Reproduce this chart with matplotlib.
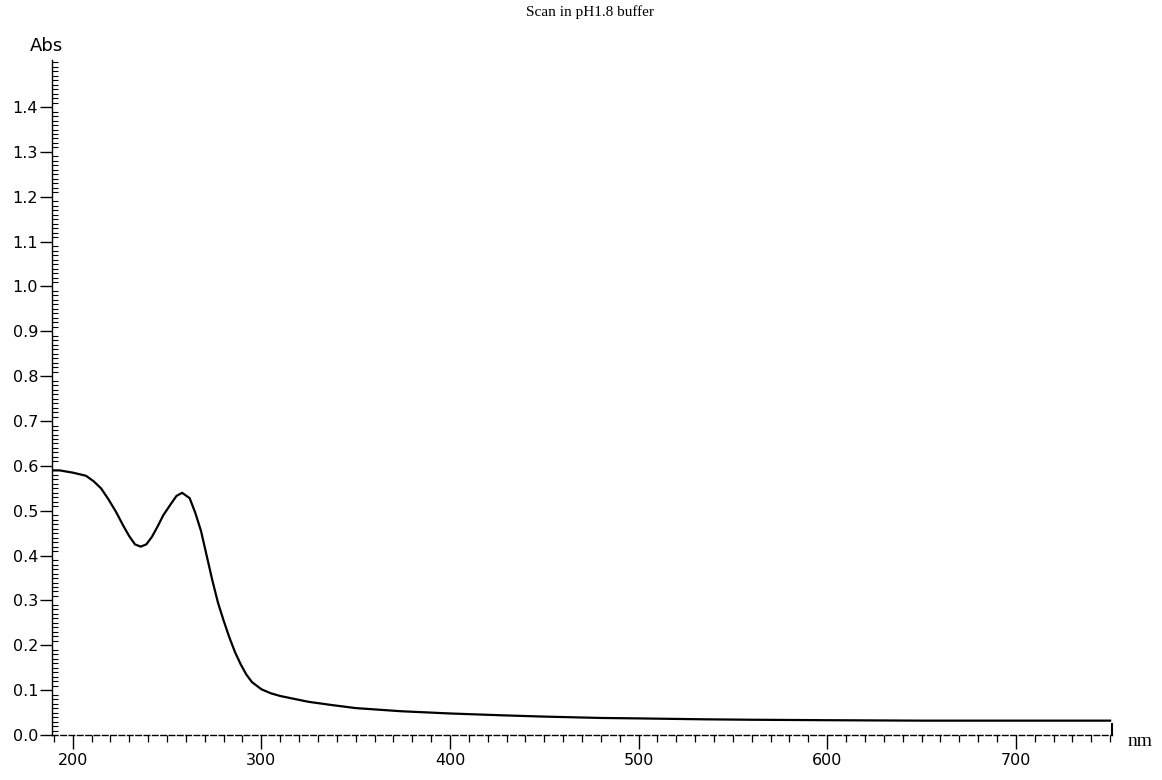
import matplotlib
matplotlib.use("Agg")
import matplotlib.pyplot as plt
from matplotlib.ticker import MultipleLocator, FormatStrFormatter

# Data (wavelength nm, absorbance)
wavelength = [189, 193, 200, 207, 211, 215, 219, 223, 227, 230, 233, 236, 239,
              242, 245, 248, 252, 255, 258, 262, 265, 268, 271, 274, 277, 280,
              283, 286, 289, 292, 295, 300, 305, 310, 318, 325, 337, 350, 374,
              400, 427, 450, 480, 500, 534, 560, 600, 650, 700, 750]
absorbance = [0.590, 0.590, 0.585, 0.578, 0.566, 0.550, 0.525, 0.497, 0.465,
              0.443, 0.425, 0.420, 0.425, 0.442, 0.465, 0.490, 0.515, 0.533,
              0.540, 0.528, 0.495, 0.455, 0.400, 0.345, 0.295, 0.255, 0.218,
              0.185, 0.158, 0.135, 0.118, 0.102, 0.093, 0.087, 0.080, 0.074,
              0.067, 0.060, 0.053, 0.048, 0.044, 0.041, 0.038, 0.037, 0.035,
              0.034, 0.033, 0.032, 0.032, 0.032]

title = "Scan in pH1.8 buffer"
x_label = "nm"
y_label = "Abs"
x_ticks = [200, 300, 400, 500, 600, 700]
y_ticks = [0.0, 0.1, 0.2, 0.3, 0.4, 0.5, 0.6, 0.7, 0.8, 0.9, 1.0, 1.1, 1.2, 1.3, 1.4]

fig = plt.figure(figsize=(11.62, 7.8), dpi=100)
ax = fig.add_axes([52 / 1162, 45 / 780, 1060 / 1162, 675 / 780])

ax.plot(wavelength, absorbance, color="black", linewidth=1.6)

ax.set_xlim(189, 751)
ax.set_ylim(0.0, 1.505)

for s in ["top", "right"]:
    ax.spines[s].set_visible(False)
ax.spines["left"].set_linewidth(1.0)
ax.spines["bottom"].set_linewidth(1.0)
ax.spines["left"].set_linestyle((0, (3, 1)))
ax.spines["bottom"].set_linestyle((0, (4, 2)))

ax.set_xticks(x_ticks)
ax.set_yticks(y_ticks)
ax.yaxis.set_major_formatter(FormatStrFormatter("%.1f"))
ax.xaxis.set_minor_locator(MultipleLocator(10))
ax.yaxis.set_minor_locator(MultipleLocator(0.01))

ax.tick_params(axis="x", which="major", direction="out", length=10, width=1.0,
               labelsize=11.5, pad=3)
ax.tick_params(axis="x", which="minor", direction="out", length=5, width=0.9)
ax.tick_params(axis="y", which="major", direction="out", length=9, width=1.0,
               labelsize=11.5, pad=1)
ax.tick_params(axis="y", which="minor", direction="in", length=4, width=0.8)

for lbl in ax.get_xticklabels() + ax.get_yticklabels():
    lbl.set_family("DejaVu Sans")

# end tick at right end of x axis
ax.plot([751, 751], [0.0, 0.025], color="black", linewidth=1.5, clip_on=False)

fig.text(590 / 1162, 1 - 12 / 780, title, ha="center", va="center",
         fontsize=11, family="Liberation Serif")
fig.text(46 / 1162, 1 - 46 / 780, y_label, ha="center", va="center",
         fontsize=13, family="DejaVu Sans")
fig.text(1140 / 1162, 1 - 742 / 780, x_label, ha="center", va="center",
         fontsize=14, family="Liberation Serif")

fig.savefig("out.png", dpi=100, facecolor="white")
